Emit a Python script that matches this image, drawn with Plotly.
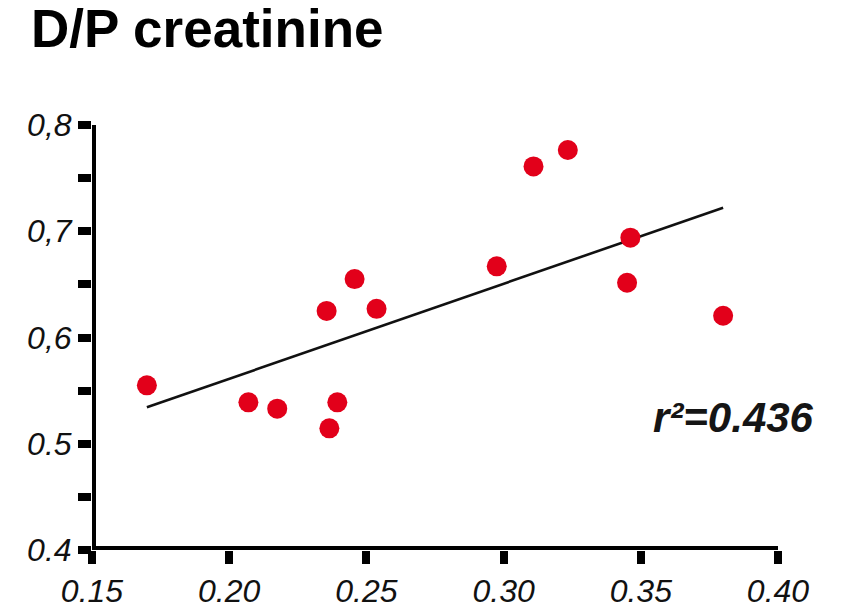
import numpy as np
import plotly.graph_objects as go

# Dialysate-to-plasma creatinine ratio against the x-axis measure
ratio_x = [0.170, 0.207, 0.2175, 0.2355, 0.2457, 0.2537, 0.2394, 0.2365,
           0.2975, 0.3109, 0.3234, 0.3462, 0.3450, 0.380]
dp_creatinine = [0.555, 0.539, 0.533, 0.625, 0.655, 0.627, 0.539, 0.5145,
                 0.667, 0.761, 0.7765, 0.694, 0.6515, 0.6205]

x_ticks = [0.15, 0.20, 0.25, 0.30, 0.35, 0.40]
x_tick_labels = ["0.15", "0.20", "0.25", "0.30", "0.35", "0.40"]
y_ticks = [0.40, 0.45, 0.50, 0.55, 0.60, 0.65, 0.70, 0.75, 0.80]
y_tick_labels = ["0.4", "", "0.5", "", "0,6", "", "0,7", "", "0,8"]

title_text = "D/P creatinine"
r_squared_text = "r²=0.436"

X_RANGE = [0.15, 0.40]
Y_RANGE = [0.40, 0.80]

FONT = "Liberation Sans, Arial, Helvetica, sans-serif"
RED = "#e2001a"

# least-squares regression line over the observed x span
slope, intercept = np.polyfit(ratio_x, dp_creatinine, 1)
fit_x = np.array([min(ratio_x), max(ratio_x)])
fit_y = slope * fit_x + intercept

fig = go.Figure()

fig.add_trace(go.Scatter(
    x=fit_x, y=fit_y, mode="lines",
    line=dict(color="#111111", width=2.6),
    hoverinfo="skip", showlegend=False,
))

fig.add_trace(go.Scatter(
    x=ratio_x, y=dp_creatinine, mode="markers",
    marker=dict(color=RED, size=20, line=dict(width=0)),
    showlegend=False,
))

# heavy axis spines, centred on the range edges
fig.add_shape(type="line", xref="x", yref="y",
              x0=X_RANGE[0], x1=X_RANGE[0],
              y0=Y_RANGE[0] - 0.004, y1=Y_RANGE[1] + 0.004,
              line=dict(color="black", width=8), layer="above")
fig.add_shape(type="line", xref="x", yref="y",
              x0=X_RANGE[0] - 0.0015, x1=X_RANGE[1] + 0.0012,
              y0=Y_RANGE[0], y1=Y_RANGE[0],
              line=dict(color="black", width=8), layer="above")

fig.add_annotation(
    text=title_text, xref="paper", yref="paper",
    x=(29 - 92) / 686, y=(550 + 3) / 425,
    xanchor="left", yanchor="top", showarrow=False,
    font=dict(family=FONT, size=53, color="black", weight="bold"),
)

fig.add_annotation(
    text=r_squared_text, xref="x", yref="y",
    x=0.3838, y=0.525, xanchor="center", yanchor="middle", showarrow=False,
    font=dict(family=FONT, size=42, color="#151515", weight="bold", style="italic"),
)

fig.update_xaxes(
    range=X_RANGE, tickvals=x_ticks, ticktext=x_tick_labels,
    ticks="outside", ticklen=13, tickwidth=8, tickcolor="black",
    showline=False, showgrid=False, zeroline=False, automargin=False,
    tickfont=dict(family=FONT, size=32, color="#111111", style="italic"),
)
fig.update_yaxes(
    range=Y_RANGE, tickvals=y_ticks, ticktext=y_tick_labels,
    ticks="outside", ticklen=13, tickwidth=8, tickcolor="black",
    showline=False, showgrid=False, zeroline=False, automargin=False,
    tickfont=dict(family=FONT, size=32, color="#111111", style="italic"),
)

fig.update_layout(
    width=863, height=609,
    margin=dict(l=92, r=85, t=125, b=59),
    paper_bgcolor="white", plot_bgcolor="white",
    showlegend=False,
)

fig.write_html("out.html")
